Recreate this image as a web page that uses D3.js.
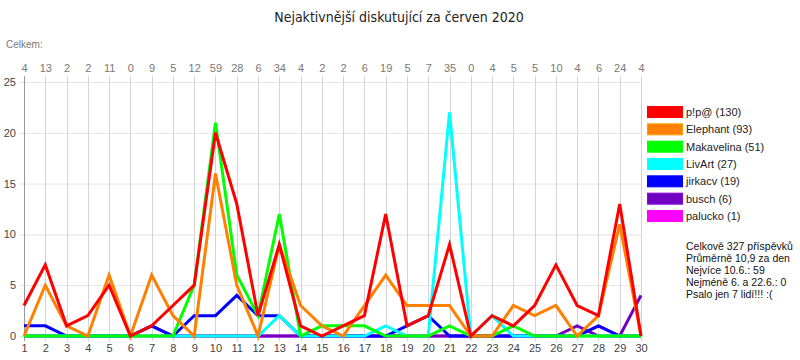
<!DOCTYPE html>
<html><head><meta charset="utf-8">
<script src="https://cdn.jsdelivr.net/npm/d3@7"></script>
<style>body{margin:0;background:#fff}svg{display:block}</style>
</head><body><svg id="c" width="800" height="360"></svg>
<script>
const days = d3.range(1, 31);
const totals = [4,13,2,2,11,0,9,5,12,59,28,6,34,4,2,2,6,19,5,7,35,0,4,5,5,10,4,6,24,4];
const names = ["p!p@","Elephant","Makavelina","LivArt","jirkacv","busch","palucko"];
const colors = ["#ff0000","#ff8000","#00ff00","#00ffff","#0000ff","#7000c0","#ff00ff"];
const pip = [3,7,1,2,5,0,1,3,5,20,13,2,9,1,0,1,2,12,1,2,9,0,2,1,3,7,3,2,13,0];
const elephant = [0,5,1,0,6,0,6,2,0,16,5,0,9,3,1,0,3,6,3,3,3,0,0,3,2,3,0,2,11,0];
const makavelina = [0,0,0,0,0,0,0,0,5,21,6,2,12,0,1,1,1,0,0,0,1,0,0,1,0,0,0,0,0,0];
const livart = [0,0,0,0,0,0,0,0,0,0,0,0,2,0,0,0,0,1,0,0,22,0,2,0,0,0,0,0,0,0];
const jirkacv = [1,1,0,0,0,0,1,0,2,2,4,2,2,0,0,0,0,0,1,2,0,0,0,0,0,0,0,1,0,0];
const busch = [0,0,0,0,0,0,1,0,0,0,0,0,0,0,0,0,0,0,0,0,0,0,0,0,0,0,1,0,0,4];
const palucko = [0,0,0,0,0,0,0,0,0,0,0,0,0,0,0,0,0,0,0,0,0,0,0,0,0,0,0,1,0,0];
const seriesValues = [pip, elephant, makavelina, livart, jirkacv, busch, palucko];
const yTicks = [0,5,10,15,20,25];
const statLines = ["Celkově 327 příspěvků","Průměrně 10,9 za den","Nejvíce 10.6.: 59","Nejméně 6. a 22.6.: 0","Psalo jen 7 lidí!!! :("];

const svg = d3.select("#c");
const font = "'Liberation Sans', Arial, sans-serif";
const L = 24, R = 641, T = 82, B = 336;
const x = d3.scaleLinear().domain([1, 30]).range([L, R]);
const y = d3.scaleLinear().domain([0, 25]).range([B, T]);

svg.append("text").attr("x", 399).attr("y", 22).attr("text-anchor", "middle")
  .attr("font-family", "'Liberation Sans Narrow', 'DejaVu Sans Condensed', Arial, sans-serif")
  .attr("font-size", 14).attr("fill", "#222").text("Nejaktivnější diskutující za červen 2020");

svg.append("text").attr("x", 6).attr("y", 48).attr("font-family", font)
  .attr("font-size", 10).attr("fill", "#777").text("Celkem:");

// horizontal grid
const hg = svg.append("g");
hg.selectAll("line").data(yTicks).join("line")
  .attr("x1", L - 5).attr("x2", R).attr("y1", d => y(d) + 0.5).attr("y2", d => y(d) + 0.5)
  .attr("stroke", "#e4e4e4").attr("stroke-width", 1);
// vertical grid
const vg = svg.append("g");
vg.selectAll("line").data(days).join("line")
  .attr("x1", d => Math.round(x(d)) + 0.5).attr("x2", d => Math.round(x(d)) + 0.5)
  .attr("y1", T - 6).attr("y2", B + 5)
  .attr("stroke", (d, i) => i === 0 ? "#999" : "#d4d4d4").attr("stroke-width", 1);

// y axis labels
const yAxis = d3.axisLeft(y).tickValues(yTicks).tickSize(0).tickPadding(8);
const ya = svg.append("g").attr("transform", `translate(${L},0)`).call(yAxis);
ya.select(".domain").remove();
ya.selectAll("text").attr("font-family", font).attr("font-size", 11).attr("fill", "#444");

// bottom x axis labels
const xAxis = d3.axisBottom(x).tickValues(days).tickFormat(d3.format("d")).tickSize(0).tickPadding(8);
const xa = svg.append("g").attr("transform", `translate(0,${B})`).call(xAxis);
xa.select(".domain").remove();
xa.selectAll("text").attr("font-family", font).attr("font-size", 11).attr("fill", "#444");

// top totals axis
const xTop = d3.axisTop(x).tickValues(days).tickFormat((d, i) => totals[i]).tickSize(0).tickPadding(10);
const xt = svg.append("g").attr("transform", `translate(0,${T})`).call(xTop);
xt.select(".domain").remove();
xt.selectAll("text").attr("font-family", font).attr("font-size", 11).attr("fill", "#777");

// lines (draw last series first so p!p@ is on top)
const line = d3.line().x((d, i) => x(days[i])).y(d => y(d));
const order = d3.range(names.length).reverse();
svg.append("g").selectAll("path").data(order).join("path")
  .attr("d", k => line(seriesValues[k]))
  .attr("fill", "none").attr("stroke", k => colors[k]).attr("stroke-width", 3)
  .attr("stroke-linejoin", "miter");

// legend
const sums = seriesValues.map(v => d3.sum(v));
const lg = svg.append("g");
const ly = d3.scaleLinear().domain([0, 6]).range([106, 210]);
names.forEach((n, i) => {
  lg.append("rect").attr("x", 647.5).attr("y", ly(i) + 0.5).attr("width", 35).attr("height", 11)
    .attr("fill", colors[i]).attr("stroke", d3.color(colors[i]).brighter(0.6)).attr("stroke-width", 1);
  lg.append("text").attr("x", 686).attr("y", ly(i) + 10).attr("font-family", font)
    .attr("font-size", 11).attr("fill", "#222").text(`${n} (${sums[i]})`);
});

// stats
const st = svg.append("g");
statLines.forEach((s, i) => {
  st.append("text").attr("x", 686).attr("y", 250 + i * 12).attr("font-family", font)
    .attr("font-size", 10.5).attr("fill", "#111").text(s);
});
</script></body></html>
